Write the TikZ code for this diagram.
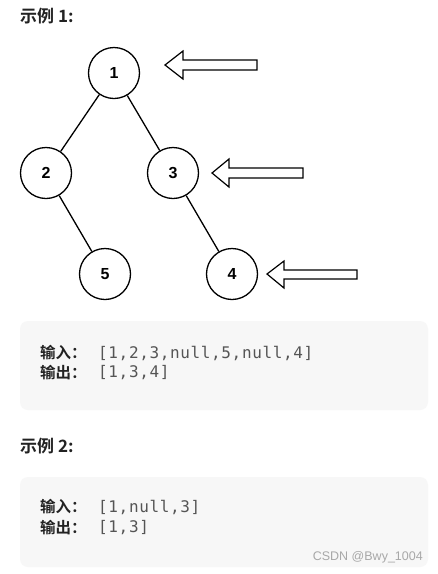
\documentclass[tikz,border=0pt]{standalone}
\usepackage{fontspec}
\setmainfont{Liberation Sans}
\newfontfamily\cjkb{Noto Sans CJK SC}[BoldFont={* Bold}]
\newfontfamily\codefont{DejaVu Sans Mono}[LetterSpace=4]
\definecolor{boxfill}{HTML}{F7F7F7}
\definecolor{codegray}{HTML}{555555}
\definecolor{titlecol}{HTML}{222222}
\definecolor{wmgray}{HTML}{A8A8A8}
\begin{document}
\begin{tikzpicture}[x=1pt,y=-1pt,
  tnode/.style={circle,draw,line width=1.3pt,minimum size=51pt,inner sep=0pt,font=\fontsize{16}{16}\selectfont\bfseries},
  tedge/.style={line width=1.3pt},
  hollowarrow/.style={draw,line width=1.2pt,fill=white,line join=miter},
  codebox/.style={fill=boxfill,rounded corners=8pt,draw=none},
  title/.style={anchor=west,inner sep=0pt,text=titlecol,font=\fontsize{17}{17}\selectfont\cjkb\bfseries},
  lbl/.style={anchor=west,inner sep=0pt,text=titlecol,font=\fontsize{15.5}{15.5}\selectfont\cjkb\bfseries},
  code/.style={anchor=west,inner sep=0pt,text=codegray,font=\fontsize{16}{16}\selectfont\codefont}
]
\useasboundingbox (0,0) rectangle (438,574);
\fill[white] (0,0) rectangle (438,574);

\node[title] (t1) at (20,16) {示例 1:};

\node[tnode] (n1) at (114,73) {1};
\node[tnode] (n2) at (46,173) {2};
\node[tnode] (n3) at (173,173) {3};
\node[tnode] (n5) at (105,274) {5};
\node[tnode] (n4) at (232,274) {4};
\draw[tedge] (n1) -- (n2);
\draw[tedge] (n1) -- (n3);
\draw[tedge] (n2) -- (n5);
\draw[tedge] (n3) -- (n4);

\draw[hollowarrow] (165,65) -- (183,51) -- (183,60) -- (257,60) -- (257,70) -- (183,70) -- (183,79) -- cycle;
\draw[hollowarrow] (212,173) -- (229,159) -- (229,168) -- (303,168) -- (303,178) -- (229,178) -- (229,187) -- cycle;
\draw[hollowarrow] (267,274) -- (284,261) -- (284,270) -- (357,270) -- (357,279) -- (284,279) -- (284,288) -- cycle;

\fill[codebox] (20,321) rectangle (428,410);
\node[lbl] (in1) at (40,353) {输入：};
\node[code] (iv1) at (98,353) {[1,2,3,null,5,null,4]};
\node[lbl] (out1) at (40,373) {输出：};
\node[code] (ov1) at (98,373) {[1,3,4]};

\node[title] (t2) at (20,446) {示例 2:};

\fill[codebox] (20,477) rectangle (428,567);
\node[lbl] (in2) at (40,507) {输入：};
\node[code] (iv2) at (98,507) {[1,null,3]};
\node[lbl] (out2) at (40,528) {输出：};
\node[code] (ov2) at (98,528) {[1,3]};

\node[anchor=east,inner sep=0pt,text=wmgray,font=\fontsize{12.5}{12.5}\selectfont] (wm) at (423,557) {CSDN @Bwy\_1004};
\end{tikzpicture}
\end{document}
